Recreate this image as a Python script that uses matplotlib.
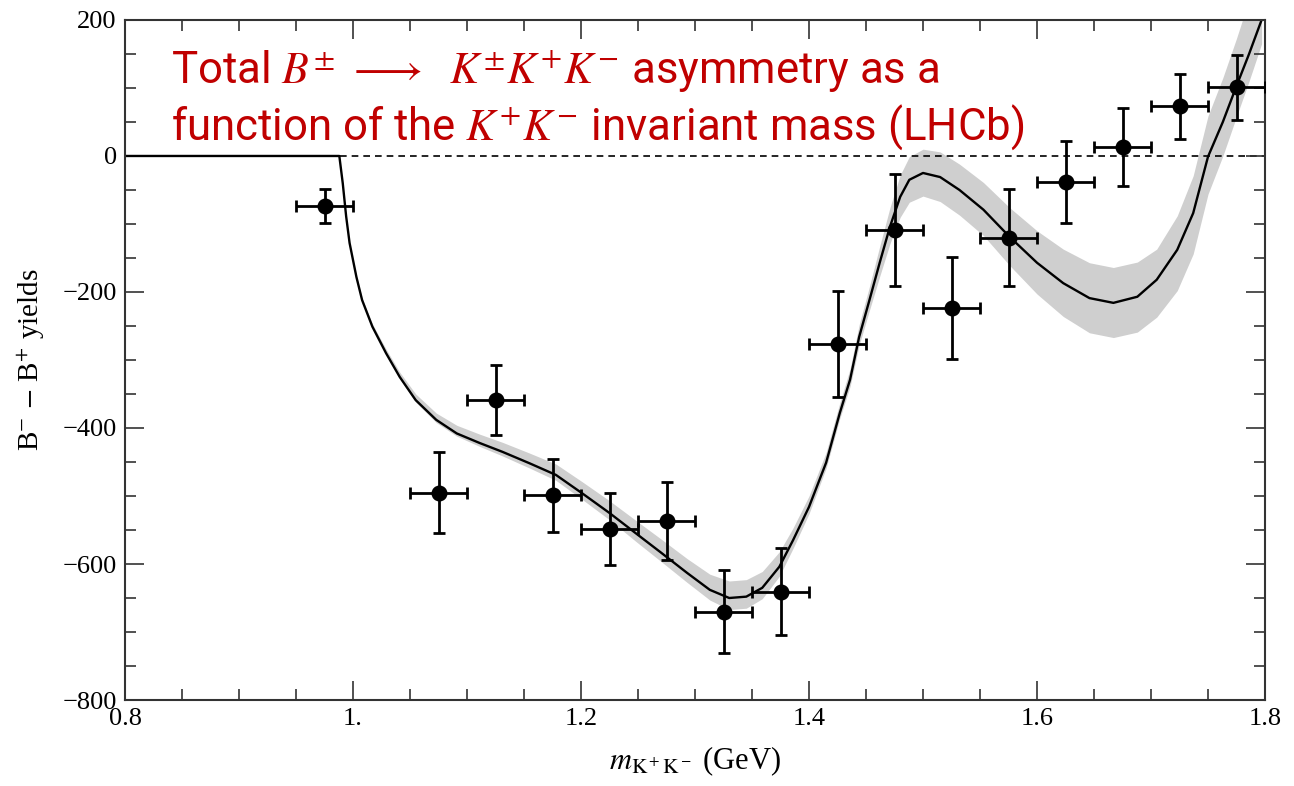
import numpy as np
import matplotlib.pyplot as plt
from matplotlib.ticker import MultipleLocator, FixedLocator, FixedFormatter

plt.rcParams['mathtext.fontset'] = 'stix'
plt.rcParams['font.family'] = ['Liberation Serif', 'DejaVu Serif']

# measured points (bin centres, yields, errors)
mass = [0.975, 1.075, 1.125, 1.175, 1.225, 1.275, 1.325, 1.375,
        1.425, 1.475, 1.525, 1.575, 1.625, 1.675, 1.725, 1.775]
yields = [-73, -495, -359, -499, -549, -537, -670, -641,
          -277, -109, -224, -120, -38, 13, 73, 101]
yerr = [25, 60, 51, 54, 53, 57, 61, 64, 78, 82, 75, 71, 60, 57, 48, 48]
xerr = 0.025

# fit curve
curve_x = [0.80, 0.988, 0.991, 0.994, 0.997, 1.003, 1.008, 1.017, 1.029, 1.041,
           1.055, 1.073, 1.091, 1.111, 1.131, 1.155, 1.178, 1.201, 1.225, 1.249,
           1.270, 1.293, 1.313, 1.330, 1.345, 1.359, 1.374, 1.386, 1.400, 1.415,
           1.427, 1.436, 1.444, 1.453, 1.462, 1.471, 1.480, 1.488, 1.500, 1.515,
           1.532, 1.553, 1.576, 1.600, 1.623, 1.646, 1.667, 1.688, 1.705, 1.723,
           1.737, 1.750, 1.763, 1.775, 1.786, 1.797]
curve_y = [0, 0, -40, -89, -128, -178, -212, -251, -290, -325,
           -359, -388, -408, -422, -435, -452, -469, -496, -525, -556,
           -583, -613, -638, -650, -648, -635, -604, -565, -516, -451,
           -378, -329, -266, -212, -157, -104, -60, -35, -25, -31,
           -50, -79, -119, -157, -187, -209, -216, -207, -182, -138,
           -84, -1, 50, 103, 150, 200]
# uncertainty band, distance above and below the curve
band_hi = [0, 0, 0, 0, 0, 2, 3, 4, 6, 7,
           9, 10, 12, 13, 14, 15, 16, 17, 18, 19,
           20, 21, 23, 25, 25, 24, 22, 18, 16, 15,
           15, 16, 18, 20, 24, 28, 32, 34, 35, 37,
           38, 40, 43, 47, 50, 52, 52, 51, 45, 50,
           55, 60, 65, 70, 80, 90]
band_lo = [0, 0, 0, 0, 0, 0, 1, 1, 2, 2,
           3, 4, 4, 5, 6, 7, 8, 9, 10, 12,
           13, 14, 15, 17, 17, 16, 14, 12, 10, 8,
           8, 10, 12, 15, 20, 25, 30, 33, 34, 36,
           37, 38, 42, 46, 49, 51, 51, 52, 55, 60,
           60, 55, 50, 45, 40, 35]

cx = np.array(curve_x)
cy = np.array(curve_y)

fig = plt.figure(figsize=(12.94, 7.86), dpi=100)
ax = fig.add_axes([0.0966, 0.1094, 0.8810, 0.8652])

ax.fill_between(cx, cy - np.array(band_lo), cy + np.array(band_hi),
                color='#cfcfcf', lw=0, zorder=1)
ax.plot(cx, cy, color='black', lw=1.7, zorder=2, solid_joinstyle='round')
ax.plot([0.989, 1.8], [0, 0], color='black', lw=1.2, ls=(0, (4, 3)), zorder=1)

ax.errorbar(mass, yields, yerr=yerr, xerr=xerr, fmt='o', color='black',
            ms=10.5, elinewidth=2, capsize=4.5, capthick=2, zorder=3)

ax.set_xlim(0.8, 1.8)
ax.set_ylim(-800, 200)
ax.xaxis.set_major_locator(FixedLocator([0.8, 1.0, 1.2, 1.4, 1.6, 1.8]))
ax.xaxis.set_major_formatter(FixedFormatter(['0.8', '1.', '1.2', '1.4', '1.6', '1.8']))
ax.xaxis.set_minor_locator(MultipleLocator(0.05))
ax.yaxis.set_major_locator(MultipleLocator(200))
ax.yaxis.set_minor_locator(MultipleLocator(50))
ax.tick_params(which='both', direction='in', top=True, right=True,
               labelsize=19, color='#333333', width=1.2)
ax.tick_params(which='major', length=14, pad=6)
ax.tick_params(which='minor', length=8)
for s in ax.spines.values():
    s.set_color('#333333')
    s.set_linewidth(1.5)

ax.set_xlabel(r'$m_{\mathrm{K^+K^-}}$ (GeV)', fontsize=22, labelpad=10)
ax.set_ylabel(r'B$^{-}$ $-$ B$^{+}$ yields', fontsize=21, labelpad=10)

red = '#C00000'
tfont = ['Roboto', 'DejaVu Sans']
fig.text(0.132, 0.894, r'Total $B^{\pm}\ \longrightarrow\ \ K^{\pm}K^{+}K^{-}$ asymmetry as a',
         color=red, fontsize=31.5, family=tfont, ha='left', va='baseline')
fig.text(0.132, 0.822, r'function of the $K^{+}K^{-}$ invariant mass (LHCb)',
         color=red, fontsize=31.5, family=tfont, ha='left', va='baseline')

fig.savefig('out.png', dpi=100)
